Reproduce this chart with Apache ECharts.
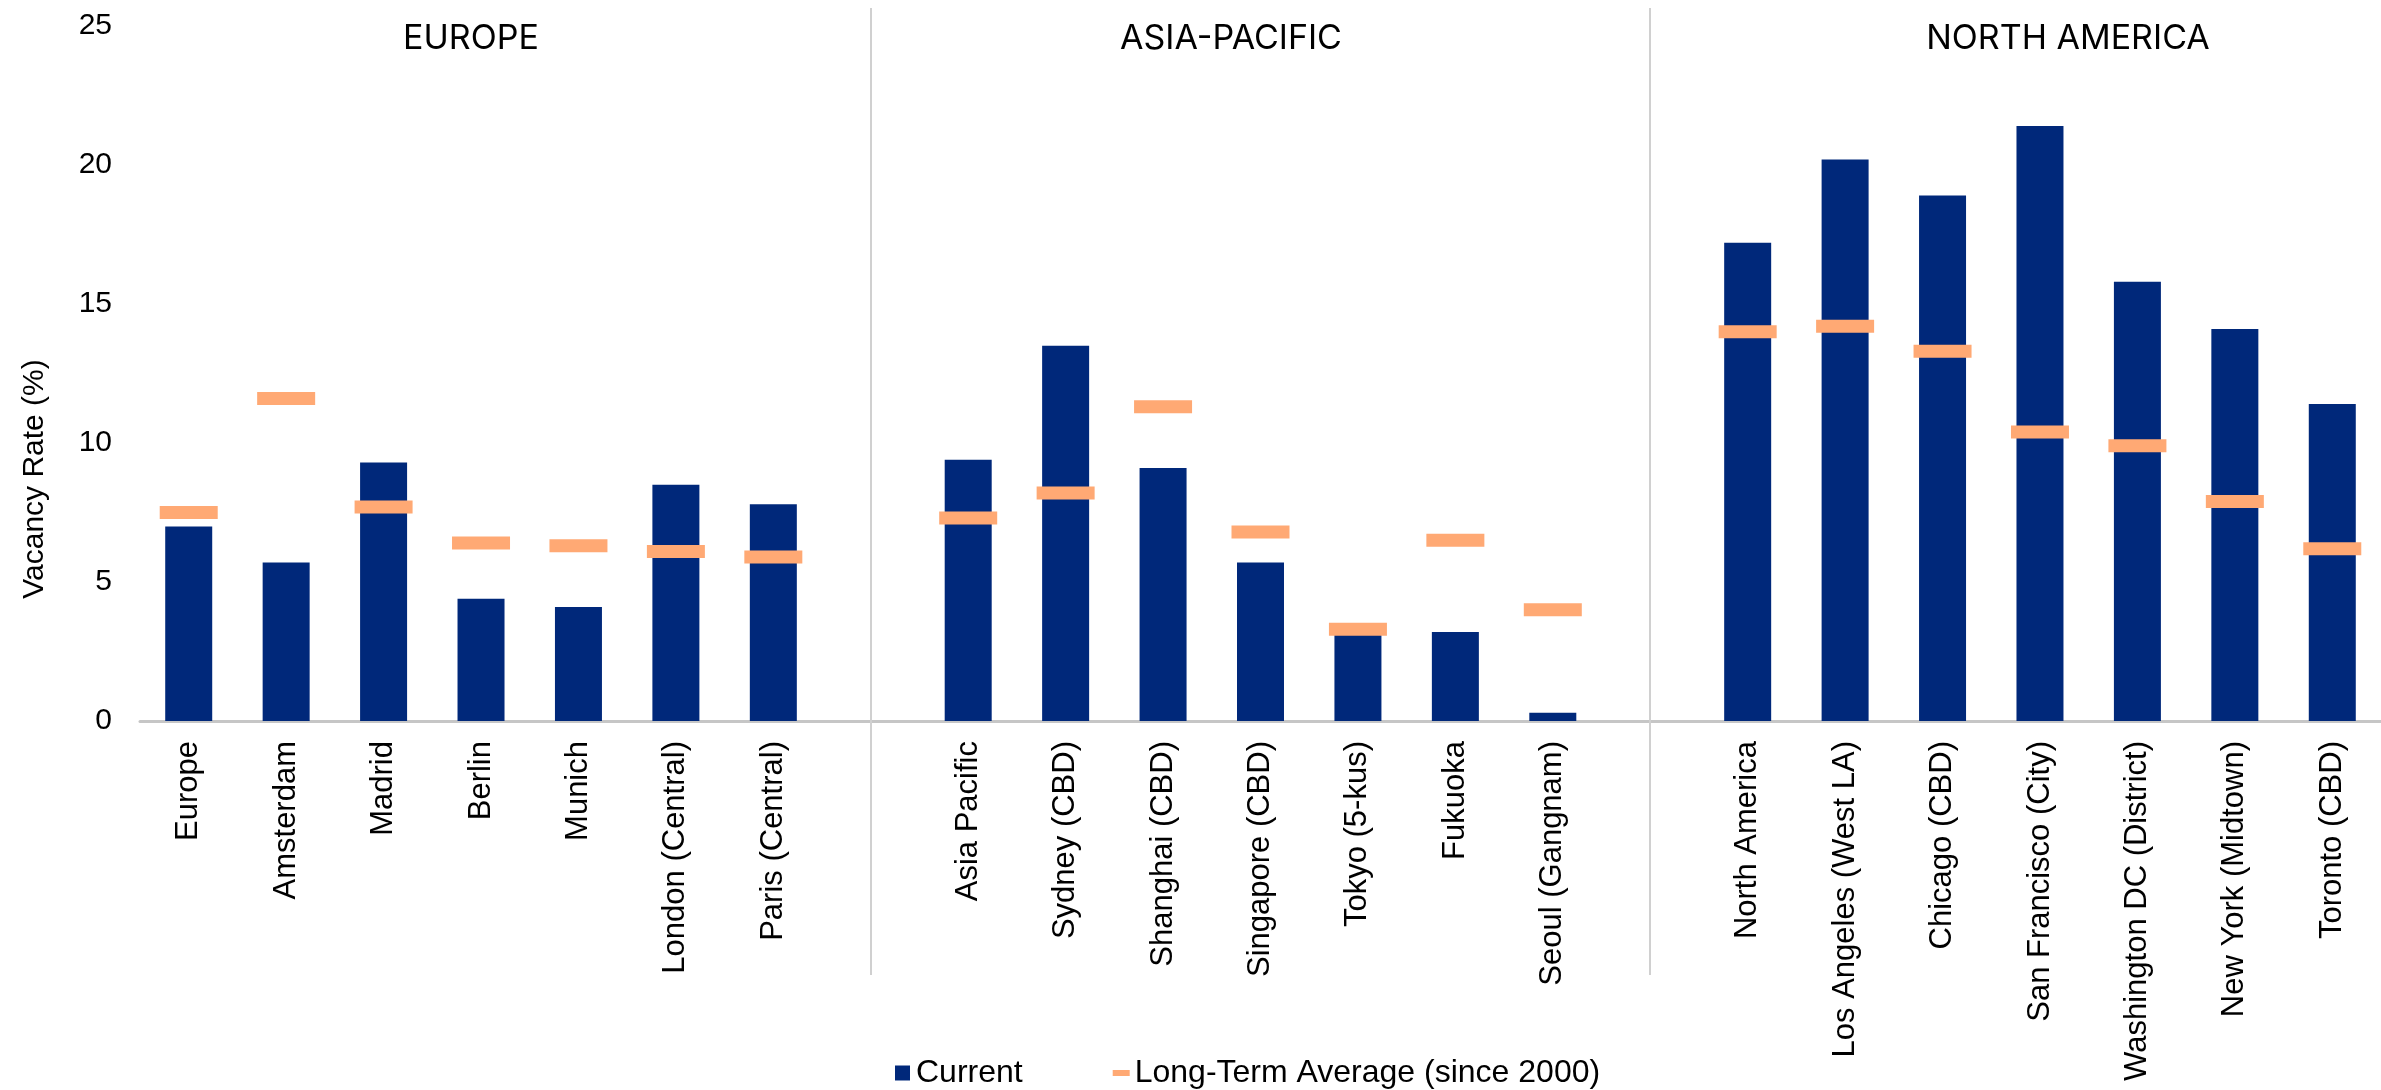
<!DOCTYPE html>
<html>
<head>
<meta charset="utf-8">
<title>Office Vacancy Rates</title>
<script src="https://cdn.jsdelivr.net/npm/echarts@6/dist/echarts.min.js"></script>
<style>
  html, body { margin: 0; padding: 0; background: #fff; }
  #chart { width: 2381px; height: 1090px; }
</style>
</head>
<body>
<div id="chart"></div>
<script>
// regions and their markets
var regions = ['EUROPE', 'ASIA-PACIFIC', 'NORTH AMERICA']
var europeMarkets = ['Europe', 'Amsterdam', 'Madrid', 'Berlin', 'Munich', 'London (Central)', 'Paris (Central)']
var asiaMarkets = ['Asia Pacific', 'Sydney (CBD)', 'Shanghai (CBD)', 'Singapore (CBD)', 'Tokyo (5-kus)', 'Fukuoka', 'Seoul (Gangnam)']
var naMarkets = ['North America', 'Los Angeles (West LA)', 'Chicago (CBD)', 'San Francisco (City)', 'Washington DC (District)', 'New York (Midtown)', 'Toronto (CBD)']

// vacancy rate (%)
var europeCurrent = [7.0, 5.7, 9.3, 4.4, 4.1, 8.5, 7.8]
var europeAverage = [7.5, 11.6, 7.7, 6.4, 6.3, 6.1, 5.9]
var asiaCurrent = [9.4, 13.5, 9.1, 5.7, 3.2, 3.2, 0.3]
var asiaAverage = [7.3, 8.2, 11.3, 6.8, 3.3, 6.5, 4.0]
var naCurrent = [17.2, 20.2, 18.9, 21.4, 15.8, 14.1, 11.4]
var naAverage = [14.0, 14.2, 13.3, 10.4, 9.9, 7.9, 6.2]

var yMin = 0
var yMax = 25
var yStep = 5

var seriesNames = ['Current', 'Long-Term Average (since 2000)']

// one empty slot between regions, the divider sits in it
var gapA = ' '
var gapB = '  '
var categories = europeMarkets.concat([gapA], asiaMarkets, [gapB], naMarkets)
var currentData = europeCurrent.concat(['-'], asiaCurrent, ['-'], naCurrent)
var averageData = europeAverage.concat(['-'], asiaAverage, ['-'], naAverage)

var navy = '#00287A'
var peach = '#FFA974'
var labelFont = 'Liberation Sans, Arial, sans-serif'

var chart = echarts.init(document.getElementById('chart'))
window.onresize = () => {
  chart.resize()
}

var option = {
  animation: false,
  backgroundColor: '#fff',
  grid: {
    left: 140,
    right: -4,
    top: 26,
    bottom: 369
  },
  legend: {
    left: 890,
    top: 1052,
    itemWidth: 17,
    itemHeight: 15,
    itemGap: 90,
    textStyle: {
      fontFamily: labelFont,
      fontSize: 32,
      color: '#000'
    },
    data: [
      { name: seriesNames[0], icon: 'path://M0,0h15v15h-15z' },
      { name: seriesNames[1], icon: 'path://M0,0h17v6h-17z' }
    ]
  },
  xAxis: {
    type: 'category',
    data: categories,
    axisLine: {
      lineStyle: { color: '#c6c6c6', width: 3 }
    },
    axisTick: { show: false },
    axisLabel: {
      interval: 0,
      rotate: 90,
      margin: 20,
      color: '#000',
      fontFamily: labelFont,
      fontSize: 31
    }
  },
  yAxis: {
    type: 'value',
    min: yMin,
    max: yMax,
    interval: yStep,
    axisLine: { show: false },
    axisTick: { show: false },
    splitLine: { show: false },
    axisLabel: {
      margin: 28,
      color: '#000',
      fontFamily: labelFont,
      fontSize: 30
    }
  },
  series: [
    {
      name: seriesNames[0],
      type: 'bar',
      barWidth: 47,
      itemStyle: { color: navy },
      data: currentData
    },
    {
      name: seriesNames[1],
      type: 'scatter',
      symbol: 'rect',
      symbolSize: [58, 13],
      z: 5,
      itemStyle: { color: peach, opacity: 1 },
      data: averageData
    }
  ]
}
chart.setOption(option)

// region dividers (from the gap slots) and text that sits outside the grid
var dividers = [gapA, gapB].map(function (g) {
  var x = Math.round(chart.convertToPixel({ xAxisIndex: 0 }, g))
  return {
    type: 'line',
    shape: { x1: x, y1: 8, x2: x, y2: 975 },
    style: { stroke: '#d0d0d0', lineWidth: 2 },
    z: 1
  }
})
var regionX = [471, 1231, 2068]
var regionTitles = regions.map(function (r, i) {
  return {
    type: 'text',
    x: regionX[i],
    y: 39,
    style: {
      text: r,
      fill: '#000',
      font: '34px Inter, "Noto Sans", sans-serif',
      textAlign: 'center',
      textVerticalAlign: 'middle'
    }
  }
})
chart.setOption({
  graphic: dividers.concat(regionTitles, [
    {
      type: 'text',
      x: 35,
      y: 479,
      rotation: Math.PI / 2,
      style: {
        text: 'Vacancy Rate (%)',
        fill: '#000',
        font: '30px "Liberation Sans", Arial, sans-serif',
        textAlign: 'center',
        textVerticalAlign: 'middle'
      }
    }
  ])
})
</script>
</body>
</html>
